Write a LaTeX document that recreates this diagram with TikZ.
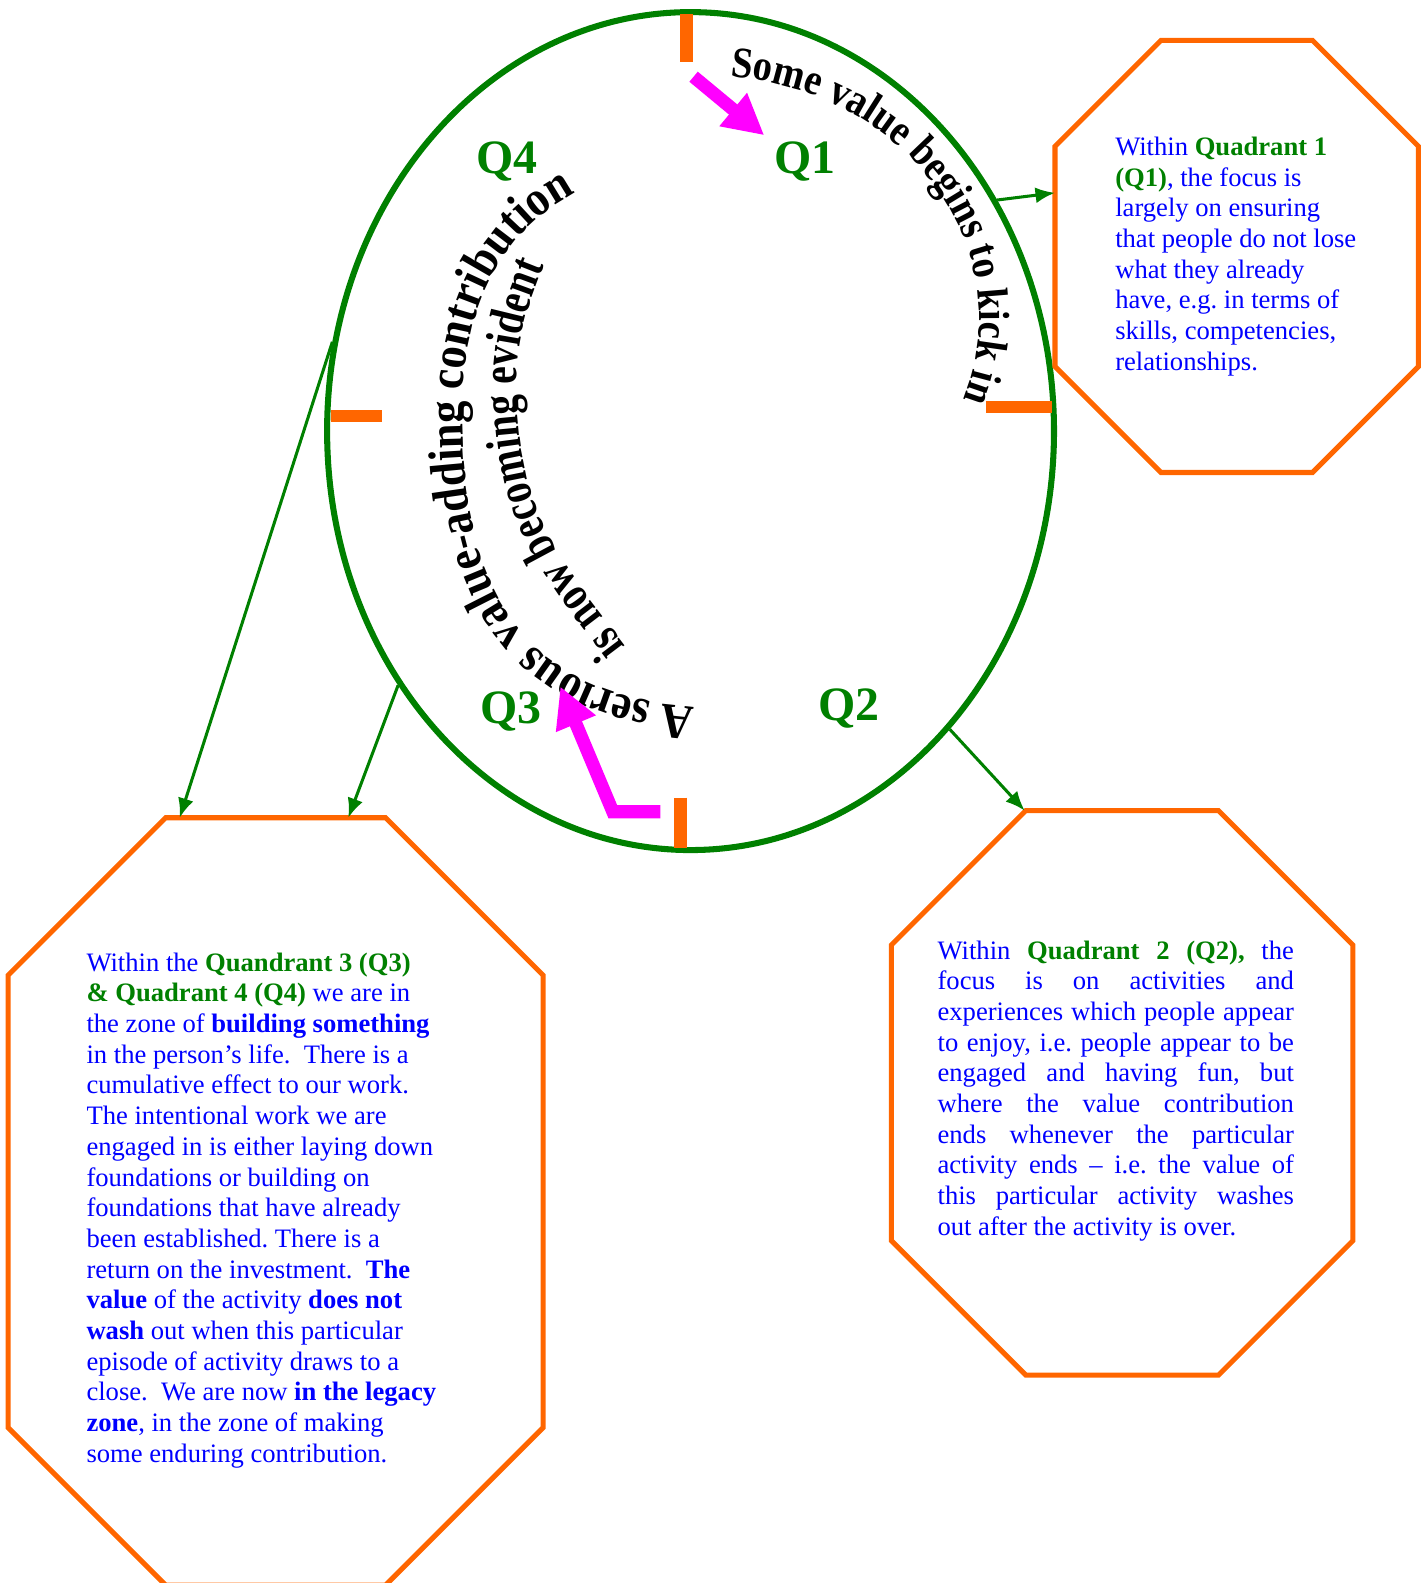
\documentclass[tikz,border=0pt]{standalone}
\usepackage{fontspec}
\setmainfont{Liberation Serif}
\newfontfamily\bogenfamA{Liberation Serif}[FakeStretch=0.88]
\newfontfamily\bogenfamB{Liberation Serif}[FakeStretch=0.90]
\newfontfamily\bogenfamC{Liberation Serif}[FakeStretch=0.80]
\usepackage{xcolor}
\usepackage{tikz}
\usetikzlibrary{arrows.meta,shapes.geometric,decorations.text,calc}

\definecolor{qgreen}{RGB}{0,128,0}
\definecolor{qorange}{RGB}{255,102,0}
\definecolor{qmagenta}{RGB}{255,0,255}
\definecolor{qblue}{RGB}{0,0,255}

\newcommand{\qg}[1]{\textcolor{qgreen}{\textbf{#1}}}
\newcommand{\bogenklein}{\bogenfamA\bfseries\fontsize{12.3}{15}\selectfont}
\newcommand{\bogengross}{\bogenfamB\bfseries\fontsize{14}{17}\selectfont}
\newcommand{\bogeninnen}{\bogenfamC\bfseries\fontsize{14}{17}\selectfont}

\tikzset{
  octa/.style={draw=qorange, line width=0.05cm, line join=miter},
  conn/.style={draw=qgreen, line width=0.03cm, -{Latex[length=5.5pt,width=4.5pt]}},
  pfeil/.style={draw=qmagenta, line width=0.13cm, line join=miter, -{Triangle[length=0.4cm,width=0.4cm]}},
  marke/.style={draw=qorange, line width=0.12cm},
  qlabel/.style={text=qgreen, font=\fontsize{13.5}{16}\selectfont\bfseries, anchor=base},
  boxtext/.style={text=qblue, font=\fontsize{7.5}{8.65}\selectfont\frenchspacing, inner sep=0pt, anchor=north west, align=left},
}

\begin{document}
\begin{tikzpicture}
%Einheit cm, Ursprung oben links, y nach unten negativ
  \pgfmathsetmacro{\mx}{6.84}
  \pgfmathsetmacro{\my}{-4.27}
\useasboundingbox (0,0) rectangle (14.11,-15.68);
\clip (0,0) rectangle (14.11,-15.68);

\node[draw=qgreen, line width=0.06cm, ellipse, inner sep=0pt, minimum width=7.2cm, minimum height=8.3cm] (ring) at (\mx,\my) {};

%Striche auf dem Kreis
\foreach \xa/\ya/\xb/\yb in {6.80/-0.14/6.80/-0.61, 9.77/-4.03/10.42/-4.03, 3.28/-4.12/3.78/-4.12, 6.74/-7.90/6.74/-8.40}
  \draw[marke] (\xa,\ya) -- (\xb,\yb);

\node[qlabel] (labQ1) at (7.97,-1.72) {Q1};
\node[qlabel] (labQ2) at (8.41,-7.14) {Q2};
\node[qlabel] (labQ3) at (5.06,-7.17) {Q3};
\node[qlabel] (labQ4) at (5.02,-1.72) {Q4};

%Text entlang der Boegen
\path[decorate, decoration={text along path, text={|\bogenklein|Some value begins to kick in}}]
  (7.235,-0.76) arc[start angle=85, end angle=-45, x radius=2.70, y radius=2.40];
\path[decorate, decoration={text along path, text={|\bogengross|A serious value-adding contribution}}]
  (6.88,-7.00) .. controls (5.28,-6.89) and (4.58,-6.00) .. (4.58,-4.10)
  .. controls (4.58,-2.70) and (5.22,-2.01) .. (6.20,-1.70) -- (6.60,-1.60);
\path[decorate, decoration={text along path, text={|\bogeninnen|is now becoming evident}}]
  (6.20,-6.40) .. controls (5.60,-5.60) and (5.12,-5.15) .. (5.12,-3.75)
  .. controls (5.12,-3.30) and (5.27,-2.92) .. (5.42,-2.55) -- (5.60,-2.20);

\draw[pfeil] (6.87,-0.76) -- (7.57,-1.34);
\draw[pfeil] (6.54,-8.04) -- (6.07,-8.04) -- (5.55,-6.80);

%Achtecke: links, rechts, oben, unten, Ecke
\foreach \l/\r/\t/\b/\c in {10.45/14.05/-0.40/-4.68/1.05, 0.08/5.38/-8.10/-15.70/1.56, 8.83/13.40/-8.03/-13.62/1.33}
  \draw[octa] (\l+\c,\t) -- (\r-\c,\t) -- (\r,\t-\c) -- (\r,\b+\c) -- (\r-\c,\b) -- (\l+\c,\b) -- (\l,\b+\c) -- (\l,\t-\c) -- cycle;

\coordinate (box1in) at (10.45,-1.91);
\coordinate (box34inA) at (1.78,-8.10);
\coordinate (box34inB) at (3.45,-8.10);
\coordinate (box2in) at (10.15,-8.03);

\draw[conn] (ring.37) -- (box1in);
\draw[conn] (ring.166) -- (box34inA);
\draw[conn] (ring.221.5) -- (box34inB);
\draw[conn] (ring.311) -- (box2in);

\node[boxtext] (txtQ1) at (11.04,-1.35) {Within \qg{Quadrant 1}\\
\qg{(Q1)}, the focus is\\
largely on ensuring\\
that people do not lose\\
what they already\\
have, e.g. in terms of\\
skills, competencies,\\
relationships.};

\node[boxtext, text width=3.53cm, align=justify] (txtQ2) at (9.28,-9.31) {Within \qg{Quadrant 2 (Q2),} the\linebreak
focus is on activities and\linebreak
experiences which people appear\linebreak
to enjoy, i.e. people appear to be\linebreak
engaged and having fun, but\linebreak
where the value contribution\linebreak
ends whenever the particular\linebreak
activity ends -- i.e. the value of\linebreak
this particular activity washes\linebreak
out after the activity is over.};

\node[boxtext] (txtQ34) at (0.85,-9.43) {Within the \qg{Quandrant 3 (Q3)}\\
\qg{\& Quadrant 4 (Q4)} we are in\\
the zone of \textbf{building something}\\
in the person’s life.\ \ There is a\\
cumulative effect to our work.\\
The intentional work we are\\
engaged in is either laying down\\
foundations or building on\\
foundations that have already\\
been established. There is a\\
return on the investment.\ \ \textbf{The}\\
\textbf{value} of the activity \textbf{does not}\\
\textbf{wash} out when this particular\\
episode of activity draws to a\\
close.\ \ We are now \textbf{in the legacy}\\
\textbf{zone}, in the zone of making\\
some enduring contribution.};
\end{tikzpicture}
\end{document}
